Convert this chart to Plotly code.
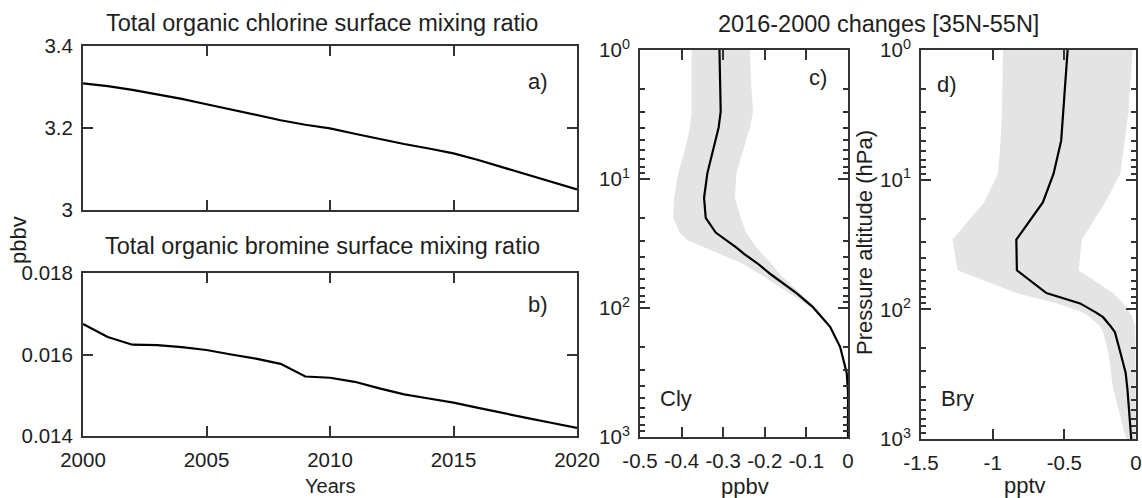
import plotly.graph_objects as go

# ---------------- data ----------------
years = list(range(2000, 2021))
cl_org = [3.309, 3.302, 3.293, 3.282, 3.271, 3.258, 3.245, 3.232, 3.219, 3.208,
          3.199, 3.186, 3.173, 3.161, 3.150, 3.138, 3.122, 3.104, 3.086, 3.068, 3.050]
br_org = [0.01675, 0.01643, 0.01624, 0.01623, 0.01618, 0.01611, 0.01600, 0.01590,
          0.01577, 0.01546, 0.01543, 0.01533, 0.01517, 0.01502, 0.01492, 0.01482,
          0.01469, 0.01456, 0.01444, 0.01432, 0.01420]

p_cly = [1, 2, 3, 4, 6, 9, 14, 20, 26, 30, 34, 38, 45, 55, 77, 98, 140, 200, 320, 450, 700, 1000]
cly_mean = [-0.309, -0.307, -0.306, -0.311, -0.325, -0.338, -0.346, -0.342, -0.318, -0.290,
            -0.268, -0.250, -0.218, -0.185, -0.123, -0.085, -0.043, -0.019, -0.003, 0.0, 0.0, 0.0]
cly_lo = [-0.376, -0.376, -0.376, -0.380, -0.392, -0.408, -0.418, -0.420, -0.405, -0.385,
          -0.345, -0.310, -0.255, -0.210, -0.139, -0.091, -0.046, -0.021, -0.004, 0.0, 0.0, 0.0]
cly_hi = [-0.236, -0.232, -0.228, -0.236, -0.252, -0.268, -0.272, -0.258, -0.245, -0.232,
          -0.220, -0.205, -0.185, -0.163, -0.115, -0.079, -0.039, -0.017, -0.002, 0.0, 0.0, 0.0]

p_bry = [1, 3, 5, 9, 15, 29, 50, 75, 90, 106, 115, 135, 150, 215, 310, 410, 890, 1000]
bry_mean = [-0.477, -0.508, -0.522, -0.575, -0.650, -0.835, -0.831, -0.625, -0.390, -0.278,
            -0.230, -0.177, -0.147, -0.109, -0.072, -0.060, -0.037, -0.033]
bry_lo = [-0.928, -0.935, -0.945, -0.963, -1.060, -1.280, -1.245, -0.830, -0.550, -0.370,
          -0.320, -0.250, -0.230, -0.192, -0.175, -0.160, -0.080, -0.065]
bry_hi = [-0.023, -0.053, -0.078, -0.110, -0.215, -0.377, -0.400, -0.158, -0.090, -0.044,
          -0.025, -0.005, 0.0, 0.0, 0.0, 0.0, 0.0, 0.0]

year_ticks = [2000, 2005, 2010, 2015, 2020]
cl_ticks = [3, 3.2, 3.4]
cl_ticktext = ["3", "3.2", "3.4"]
br_ticks = [0.014, 0.016, 0.018]
br_ticktext = ["0.014", "0.016", "0.018"]
cly_xticks = [-0.5, -0.4, -0.3, -0.2, -0.1, 0]
cly_xticktext = ["-0.5", "-0.4", "-0.3", "-0.2", "-0.1", "0"]
bry_xticks = [-1.5, -1, -0.5, 0]
bry_xticktext = ["-1.5", "-1", "-0.5", "0"]
p_ticks = [1, 10, 100, 1000]
p_ticktext = ["10<sup>0</sup>", "10<sup>1</sup>", "10<sup>2</sup>", "10<sup>3</sup>"]
p_minor = [m * d for d in (1, 10, 100) for m in range(2, 10)]

# ---------------- figure ----------------
W, H = 1142, 498
def fx(x):
    return x / W
def fy(y):
    return 1 - y / H

FONT = "Liberation Sans, Arial, Helvetica, sans-serif"
TXT = "#1e1e1e"
AX = "#333333"
BAND = "rgb(228,228,228)"

fig = go.Figure()
lw = 2.2
fig.add_trace(go.Scatter(x=years, y=cl_org, mode="lines", line=dict(color="black", width=lw),
                         xaxis="x", yaxis="y", showlegend=False))
fig.add_trace(go.Scatter(x=years, y=br_org, mode="lines", line=dict(color="black", width=lw),
                         xaxis="x2", yaxis="y2", showlegend=False))
fig.add_trace(go.Scatter(x=cly_lo + cly_hi[::-1], y=p_cly + p_cly[::-1], mode="lines",
                         fill="toself", fillcolor=BAND, line=dict(width=0, color=BAND),
                         xaxis="x3", yaxis="y3", showlegend=False))
fig.add_trace(go.Scatter(x=cly_mean, y=p_cly, mode="lines", line=dict(color="black", width=lw),
                         xaxis="x3", yaxis="y3", showlegend=False))
fig.add_trace(go.Scatter(x=bry_lo + bry_hi[::-1], y=p_bry + p_bry[::-1], mode="lines",
                         fill="toself", fillcolor=BAND, line=dict(width=0, color=BAND),
                         xaxis="x4", yaxis="y4", showlegend=False))
fig.add_trace(go.Scatter(x=bry_mean, y=p_bry, mode="lines", line=dict(color="black", width=lw),
                         xaxis="x4", yaxis="y4", showlegend=False))

common = dict(showline=True, linecolor=AX, linewidth=2, mirror="ticks", ticks="inside",
              ticklen=10, tickwidth=2, tickcolor=AX, showgrid=False, zeroline=False,
              tickfont=dict(size=20.5, color=TXT, family=FONT), ticklabelstandoff=4,
              tickmode="array", fixedrange=True, automargin=False,
              ticklabeloverflow="allow")
minor = dict(ticks="inside", ticklen=5, tickwidth=1.5, tickcolor=AX, tickvals=p_minor, showgrid=False)

fig.update_layout(
    template="none",
    width=W, height=H, autosize=False,
    margin=dict(l=0, r=0, t=0, b=0, pad=0),
    paper_bgcolor="white", plot_bgcolor="white",
    font=dict(family=FONT, color=TXT),
    showlegend=False,
    xaxis=dict(common, domain=[fx(83), fx(577)], anchor="y", range=[2000, 2020],
               tickvals=year_ticks, showticklabels=False),
    yaxis=dict(common, domain=[fy(210), fy(46)], anchor="x", range=[3, 3.4],
               tickvals=cl_ticks, ticktext=cl_ticktext),
    xaxis2=dict(common, domain=[fx(83), fx(577)], anchor="y2", range=[2000, 2020],
                tickvals=year_ticks, ticktext=[str(v) for v in year_ticks]),
    yaxis2=dict(common, domain=[fy(436), fy(273)], anchor="x2", range=[0.014, 0.018],
                tickvals=br_ticks, ticktext=br_ticktext),
    xaxis3=dict(common, domain=[fx(640), fx(848)], anchor="y3", range=[-0.5, 0],
                tickvals=cly_xticks, ticktext=cly_xticktext),
    yaxis3=dict(common, domain=[fy(437), fy(50)], anchor="x3", type="log", range=[3, 0],
                tickvals=p_ticks, ticktext=p_ticktext, minor=minor),
    xaxis4=dict(common, domain=[fx(921), fx(1136)], anchor="y4", range=[-1.5, 0],
                tickvals=bry_xticks, ticktext=bry_xticktext),
    yaxis4=dict(common, domain=[fy(439), fy(50)], anchor="x4", type="log", range=[3, 0],
                tickvals=p_ticks, ticktext=p_ticktext, minor=minor),
)

def ann(text, x, y, size, angle=0, xanchor="center", yanchor="middle"):
    fig.add_annotation(text=text, x=fx(x), y=fy(y), xref="paper", yref="paper",
                       showarrow=False, textangle=angle, xanchor=xanchor, yanchor=yanchor,
                       font=dict(size=size, color=TXT, family=FONT))

ann("Total organic chlorine surface mixing ratio", 322, 23, 23.5)
ann("Total organic bromine surface mixing ratio", 322, 246, 23.5)
ann("2016-2000 changes [35N-55N]", 878, 24, 23.5)
ann("a)", 538, 81, 22)
ann("b)", 538, 304, 22)
ann("c)", 818, 78, 22)
ann("d)", 947, 84, 22)
ann("Cly", 676, 398, 22)
ann("Bry", 957, 398, 22)
ann("Years", 330, 486, 20)
ann("ppbv", 745, 486, 22)
ann("pptv", 1025, 485, 22)
ann("pbbv", 18, 240, 22, angle=-90)
ann("Pressure altitude (hPa)", 864, 243, 22, angle=-90)

fig.write_html(
    "out.html",
    config={"displayModeBar": False},
    post_script="document.body.style.margin='0';document.body.style.overflow='hidden';",
)
